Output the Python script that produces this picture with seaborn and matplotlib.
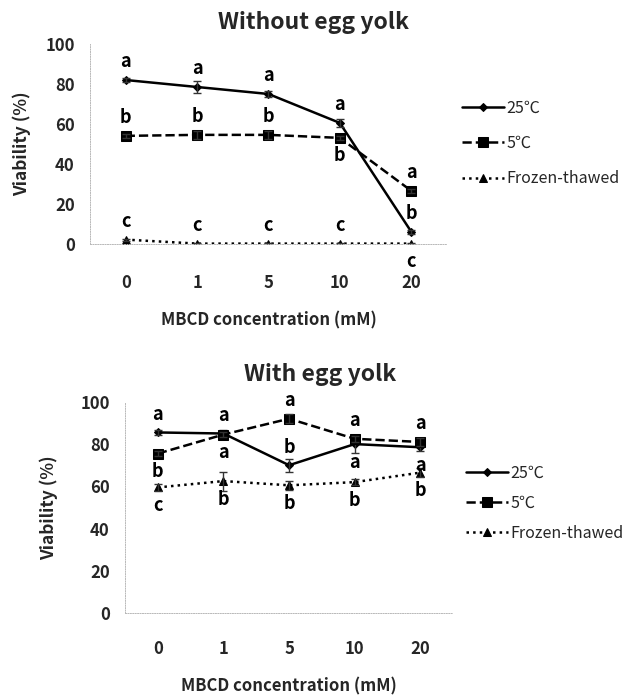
import numpy as np
import pandas as pd
import matplotlib
matplotlib.use("Agg")
import matplotlib.pyplot as plt
import seaborn as sns

# ---------------- data ----------------
concentrations = ["0", "1", "5", "10", "20"]
series_names = ["25℃", "5℃", "Frozen-thawed"]

# Without egg yolk
wo_25 = [82, 78.5, 75, 60.5, 6]
wo_5 = [54, 54.5, 54.5, 53, 26.5]
wo_ft = [2, 0, 0, 0, 0]
wo_25_err = [1, 3, 1.5, 2, 1]
wo_5_err = [1, 2, 2, 1, 1]
wo_ft_err = [0.5, 0.3, 0.3, 0.3, 0.3]
wo_25_letters = ["a", "a", "a", "a", "b"]
wo_5_letters = ["b", "b", "b", "b", "a"]
wo_ft_letters = ["c", "c", "c", "c", "c"]
wo_25_side = ["up", "up", "up", "up", "up"]
wo_5_side = ["up", "up", "up", "down", "up"]
wo_ft_side = ["up", "up", "up", "up", "down"]

# With egg yolk
w_25 = [85.5, 85, 70, 80, 78.5]
w_5 = [75.5, 84.5, 92, 82.5, 81]
w_ft = [59.5, 62.5, 60.5, 62, 66.5]
w_25_err = [1, 1.5, 3, 4, 2]
w_5_err = [1, 1, 2, 1.5, 2]
w_ft_err = [1.5, 4.5, 2, 1.5, 2]
w_25_letters = ["a", "a", "b", "a", "a"]
w_5_letters = ["b", "a", "a", "a", "a"]
w_ft_letters = ["c", "b", "b", "b", "b"]
w_25_side = ["up", "up", "up", "down", "down"]
w_5_side = ["down", "down", "up", "up", "up"]
w_ft_side = ["down", "down", "down", "down", "down"]

titles = ["Without egg yolk", "With egg yolk"]
xlabel = "MBCD concentration (mM)"
ylabel = "Viability (%)"

# ---------------- style ----------------
sns.set_theme(style="white")
plt.rcParams["font.family"] = ["Noto Sans CJK KR", "DejaVu Sans"]

fig = plt.figure(figsize=(6.25, 7), dpi=100)

panels = [
    dict(rect=[0.144, 0.652, 0.571, 0.285],
         vals=[wo_25, wo_5, wo_ft], errs=[wo_25_err, wo_5_err, wo_ft_err],
         letters=[wo_25_letters, wo_5_letters, wo_ft_letters],
         sides=[wo_25_side, wo_5_side, wo_ft_side],
         legend_xy=(0.727, 0.795), labelspacing=1.15, xpad=22,
         title_xy=(0.502, 1 - 22 / 700), ylpad=10),
    dict(rect=[0.200, 0.124, 0.525, 0.302],
         vals=[w_25, w_5, w_ft], errs=[w_25_err, w_5_err, w_ft_err],
         letters=[w_25_letters, w_5_letters, w_ft_letters],
         sides=[w_25_side, w_5_side, w_ft_side],
         legend_xy=(0.733, 0.281), labelspacing=0.8, xpad=19,
         title_xy=(0.513, 1 - 375 / 700), ylpad=16),
]

markers = ["D", "s", "^"]
linestyles = ["-", "--", ":"]
msizes = [4.5, 6.5, 6]

for p, title in zip(panels, titles):
    ax = fig.add_axes(p["rect"])
    rows = []
    for name, v in zip(series_names, p["vals"]):
        for c, y in zip(concentrations, v):
            rows.append(dict(conc=c, viab=y, series=name))
    df = pd.DataFrame(rows)

    for i, (name, v, e) in enumerate(zip(series_names, p["vals"], p["errs"])):
        sub = df[df["series"] == name]
        sns.lineplot(data=sub, x="conc", y="viab", ax=ax, color="black",
                     linestyle=linestyles[i], marker=markers[i],
                     markersize=msizes[i], markeredgecolor="black",
                     linewidth=1.8, label=name, sort=False)
        xs = np.arange(len(concentrations))
        ax.errorbar(xs, v, yerr=e, fmt="none", ecolor="#333333",
                    elinewidth=1, capsize=3, capthick=1)

    for lets, sides, v in zip(p["letters"], p["sides"], p["vals"]):
        for xi, (l, s, y) in enumerate(zip(lets, sides, v)):
            off = 13 if s == "up" else -13
            ax.annotate(l, (xi, y), xytext=(0, off), textcoords="offset points",
                        ha="center", va="center", fontsize=13,
                        fontweight="bold", color="black")

    ax.set_xlim(-0.5, len(concentrations) - 0.5)
    ax.set_ylim(0, 100)
    ax.set_yticks([0, 20, 40, 60, 80, 100])
    ax.set_xticks(range(len(concentrations)))
    ax.set_xticklabels(concentrations)
    ax.set_xticks(np.arange(0.5, len(concentrations) - 0.5, 1), minor=True)
    ax.tick_params(axis="x", which="major", length=0, pad=p["xpad"],
                   labelsize=12)
    ax.tick_params(axis="x", which="minor", length=3, width=0.6,
                   color="#aaaaaa", direction="out")
    ax.tick_params(axis="y", length=3, width=0.6, color="#aaaaaa",
                   labelsize=12, pad=8)
    for lab in ax.get_xticklabels() + ax.get_yticklabels():
        lab.set_fontweight("bold")

    for s in ["top", "right"]:
        ax.spines[s].set_visible(False)
    for s in ["left", "bottom"]:
        ax.spines[s].set_color("#b8b8b8")
        ax.spines[s].set_linewidth(0.7)
        ax.spines[s].set_linestyle((0, (1, 1.5)))

    ax.set_xlabel(xlabel, fontsize=12, fontweight="bold", labelpad=14)
    ax.set_ylabel(ylabel, fontsize=12.5, fontweight="bold",
                  labelpad=p["ylpad"])
    ax.grid(False)
    fig.text(p["title_xy"][0], p["title_xy"][1], title, ha="center",
             va="center", fontsize=16.5, fontweight="bold")

    sns.move_legend(ax, loc="center left", bbox_to_anchor=p["legend_xy"],
                    bbox_transform=fig.transFigure, frameon=False,
                    title=None, fontsize=11.5, handlelength=2.6,
                    handletextpad=0.15, borderpad=0,
                    labelspacing=p["labelspacing"])

fig.savefig("out.png", dpi=100)
